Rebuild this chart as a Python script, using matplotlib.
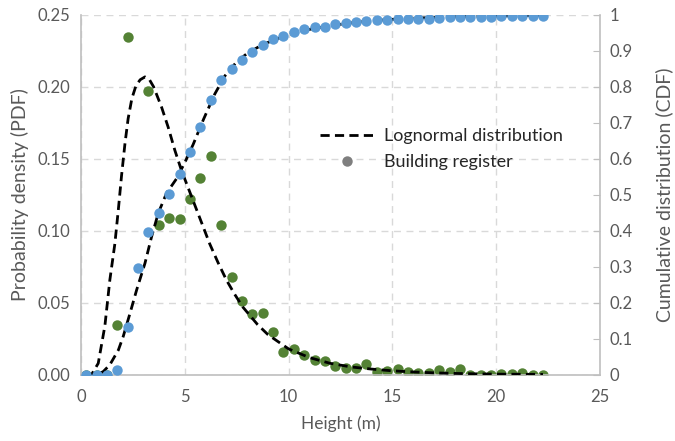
import matplotlib
matplotlib.use('Agg')
import matplotlib.pyplot as plt
from matplotlib.lines import Line2D
from matplotlib.ticker import FuncFormatter

plt.rcParams['font.family'] = ['Lato', 'DejaVu Sans']

# bin centres (m)
height = [0.25, 0.75, 1.25, 1.75, 2.25, 2.75, 3.25, 3.75, 4.25, 4.75,
          5.25, 5.75, 6.25, 6.75, 7.25, 7.75, 8.25, 8.75, 9.25, 9.75,
          10.25, 10.75, 11.25, 11.75, 12.25, 12.75, 13.25, 13.75, 14.25, 14.75,
          15.25, 15.75, 16.25, 16.75, 17.25, 17.75, 18.25, 18.75, 19.25, 19.75,
          20.25, 20.75, 21.25, 21.75, 22.25]

# building register - PDF (left axis)
pdf_register = [0, 0, 0, 0.0345, 0.235, 0.328, 0.1975, 0.104, 0.109, 0.108,
                0.122, 0.137, 0.152, 0.104, 0.068, 0.051, 0.042, 0.043, 0.030, 0.016,
                0.018, 0.014, 0.010, 0.0095, 0.0063, 0.005, 0.005, 0.0074, 0.0023, 0.0028,
                0.004, 0.0023, 0.0012, 0.0016, 0.0035, 0.0023, 0.004, 0, 0, 0,
                0.0004, 0.0007, 0.001, 0, 0]

# building register - CDF (right axis)
cdf_register = [0, 0, 0, 0.014, 0.133, 0.297, 0.396, 0.449, 0.502, 0.558,
                0.619, 0.688, 0.764, 0.818, 0.85, 0.875, 0.898, 0.918, 0.933, 0.943,
                0.953, 0.961, 0.966, 0.968, 0.975, 0.979, 0.981, 0.983, 0.985, 0.986,
                0.988, 0.988, 0.989, 0.99, 0.992, 0.994, 0.994, 0.995, 0.995, 0.995,
                0.997, 0.997, 0.998, 0.998, 0.998]

# lognormal fit
pdf_fit_x = [0.25, 0.5, 0.83, 1.15, 1.39, 1.63, 1.8, 1.95, 2.12, 2.27, 2.45, 2.65,
             2.85, 3.08, 3.3, 3.5, 3.88, 4.2, 4.52, 4.84, 5.24, 5.56, 5.88, 6.2, 6.6,
             7.0, 7.4, 7.8, 8.5, 9.0, 9.6, 10.0, 11.0, 12.0, 13.0, 14.0, 15.0,
             16.0, 17.0, 18.0, 19.0, 20.0, 21.0, 22.25]
pdf_fit = [0, 0, 0.008, 0.034, 0.066, 0.091, 0.115, 0.138, 0.161, 0.178, 0.192, 0.201,
           0.205, 0.207, 0.205, 0.2, 0.186, 0.172, 0.156, 0.142, 0.127, 0.115, 0.103, 0.091, 0.078,
           0.066, 0.056, 0.047, 0.035, 0.028, 0.022, 0.018, 0.012, 0.008, 0.0055, 0.004, 0.0028,
           0.002, 0.0014, 0.001, 0.0007, 0.0005, 0.0004, 0.0003]

cdf_fit_x = [0.25, 0.75, 1.07, 1.39, 1.8, 2.03, 2.36, 2.68, 3.08, 3.4, 3.72, 4.12,
             4.6, 5.0, 5.4, 5.9, 6.44, 6.92, 7.5, 8.0, 8.75, 9.5, 10.25, 11.0,
             12.0, 13.0, 14.0, 15.0, 16.0, 18.0, 20.0, 22.25]
cdf_fit = [0, 0, 0.009, 0.028, 0.069, 0.106, 0.171, 0.236, 0.31, 0.384, 0.449, 0.505,
           0.545, 0.59, 0.64, 0.71, 0.78, 0.83, 0.87, 0.893, 0.918, 0.935, 0.95, 0.96,
           0.97, 0.978, 0.984, 0.988, 0.991, 0.995, 0.997, 0.999]

cinza = '#595959'
verde = '#548235'
azul = '#5b9bd5'

fig = plt.figure(figsize=(6.75, 4.41), dpi=100)
ax = fig.add_axes([0.12, 0.15, 0.769, 0.816])
ax2 = ax.twinx()

# PDF no eixo da esquerda
ax.plot(height, pdf_register, 'o', color=verde, ms=7.5, mec='none', zorder=2)
ax.plot(pdf_fit_x, pdf_fit, color='black', lw=2, dashes=(3.3, 1.9), zorder=3)

# CDF no eixo da direita
ax2.plot(cdf_fit_x, cdf_fit, color='black', lw=2, dashes=(3.3, 1.9), zorder=2)
ax2.plot(height, cdf_register, 'o', color=azul, ms=7.5, mec='none', zorder=3)

ax.set_xlim(0, 25)
ax.set_ylim(0, 0.25)
ax2.set_ylim(0, 1)
ax.set_xticks([0, 5, 10, 15, 20, 25])
ax.set_yticks([0, 0.05, 0.10, 0.15, 0.20, 0.25])
ax2.set_yticks([i / 10 for i in range(11)])
ax.yaxis.set_major_formatter(FuncFormatter(lambda v, p: f'{v:.2f}'))
ax2.yaxis.set_major_formatter(FuncFormatter(lambda v, p: f'{v:g}'))

ax.grid(True, color='#d9d9d9', linestyle=(0, (5, 4)), lw=1)
ax.set_axisbelow(True)

for a in (ax, ax2):
    for s in a.spines.values():
        s.set_visible(False)
ax.spines['left'].set_visible(True)
ax.spines['bottom'].set_visible(True)
ax2.spines['right'].set_visible(True)
for s in (ax.spines['left'], ax.spines['bottom'], ax2.spines['right']):
    s.set_color('#bfbfbf')
    s.set_linewidth(1.2)

ax.tick_params(axis='x', length=0, labelsize=12, labelcolor=cinza, pad=10)
ax.tick_params(axis='y', length=0, labelsize=12, labelcolor=cinza, pad=8)
ax2.tick_params(axis='y', direction='in', length=5, color='#bfbfbf',
                labelsize=12, labelcolor=cinza, pad=7)

ax.set_xlabel('Height (m)', fontsize=12.5, color=cinza, labelpad=8)
ax.set_ylabel('Probability density (PDF)', fontsize=14, color=cinza, labelpad=6)
ax2.set_ylabel('Cumulative distribution (CDF)', fontsize=14, color=cinza, labelpad=16)

handles = [Line2D([], [], color='black', lw=2, dashes=(3.3, 1.9)),
           Line2D([], [], marker='o', ls='none', color='#7f7f7f', ms=7.5, mec='none')]
ax2.legend(handles, ['Lognormal distribution', 'Building register'],
           loc='upper left', bbox_to_anchor=(0.43, 0.73), frameon=False,
           fontsize=13, labelcolor='#262626', handlelength=2.9, handletextpad=0.6,
           labelspacing=0.55)

fig.savefig('out.png', dpi=100)
